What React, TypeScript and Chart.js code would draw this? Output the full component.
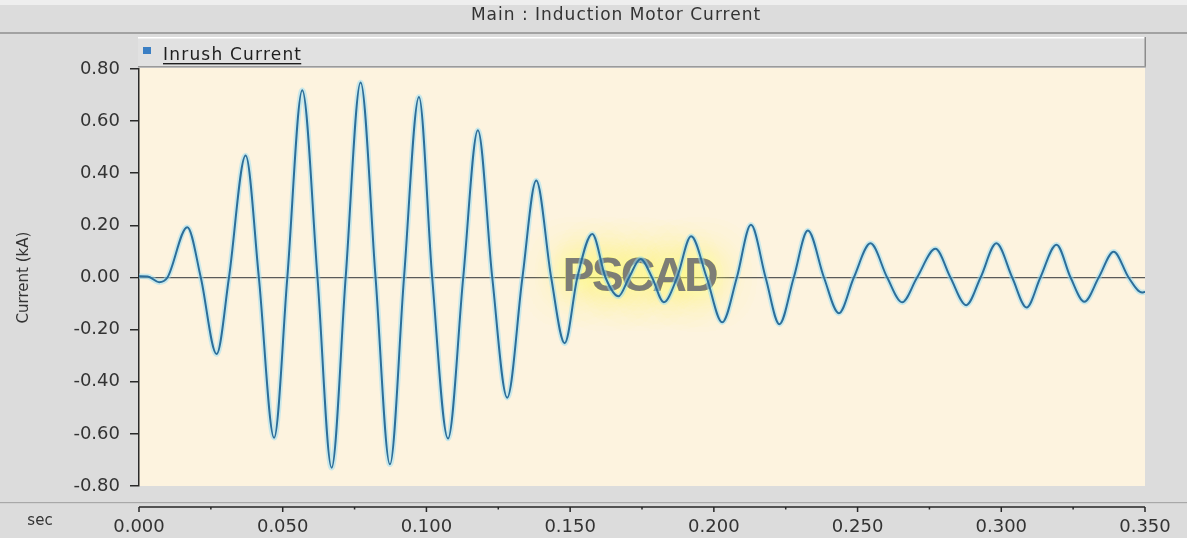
import React, { useEffect, useRef } from 'react';
import { Chart, registerables } from 'chart.js';

Chart.register(...registerables);

const TITLE = 'Main : Induction Motor Current';
const SERIES_NAME = 'Inrush Current';
const Y_TITLE = 'Current (kA)';
const X_UNIT = 'sec';
const WATERMARK = 'PSCAD';

// time (s) of extrema and zero crossings
const timeSec = [
  0.0, 0.003, 0.007, 0.0099, 0.0168, 0.0215, 0.027, 0.0313, 0.0371, 0.0417,
  0.047, 0.0516, 0.0568, 0.0621, 0.067, 0.0719, 0.0771, 0.0823, 0.0873, 0.0922,
  0.0974, 0.102, 0.1075, 0.1128, 0.1179, 0.1229, 0.1281, 0.1334, 0.1382, 0.1434,
  0.1481, 0.1525, 0.1577, 0.1623, 0.1668, 0.1705, 0.1745, 0.1785, 0.1826, 0.1872,
  0.1921, 0.1975, 0.2029, 0.208, 0.2129, 0.218, 0.2228, 0.2278, 0.2327, 0.2383,
  0.2435, 0.2487, 0.2545, 0.2603, 0.2655, 0.2707, 0.2771, 0.2823, 0.2878, 0.2928,
  0.2983, 0.3038, 0.3088, 0.3136, 0.3192, 0.3241, 0.3289, 0.3339, 0.3391, 0.3443,
  0.349, 0.35,
];
// current (kA) at those times
const currentKA = [
  0.005, 0.004, -0.018, 0.0, 0.193, 0.0, -0.294, 0.0, 0.468, 0.0,
  -0.615, 0.0, 0.718, 0.0, -0.73, 0.0, 0.748, 0.0, -0.717, 0.0,
  0.693, 0.0, -0.618, 0.0, 0.565, 0.0, -0.461, 0.0, 0.372, 0.0,
  -0.252, 0.0, 0.167, 0.0, -0.072, 0.0, 0.071, 0.0, -0.095, 0.0,
  0.158, 0.0, -0.172, 0.0, 0.202, 0.0, -0.179, 0.0, 0.18, 0.0,
  -0.137, 0.0, 0.131, 0.0, -0.095, 0.0, 0.11, 0.0, -0.106, 0.0,
  0.131, 0.0, -0.115, 0.0, 0.126, 0.0, -0.093, 0.0, 0.099, 0.0,
  -0.058, -0.055,
];

const xMajorTicks = [0, 0.05, 0.1, 0.15, 0.2, 0.25, 0.3, 0.35];
const xMinorTicks = [0.025, 0.075, 0.125, 0.175, 0.225, 0.275, 0.325];
const yTicks = [-0.8, -0.6, -0.4, -0.2, 0, 0.2, 0.4, 0.6, 0.8];

const W = 1187;
const H = 538;

const framePlugin = {
  id: 'frame',
  beforeDraw(chart: any) {
    const { ctx, chartArea } = chart;
    ctx.save();
    ctx.fillStyle = '#dcdcdc';
    ctx.fillRect(0, 0, W, H);
    ctx.fillStyle = '#eeeeee';
    ctx.fillRect(0, 0, W, 5);
    // title strip separator
    ctx.fillStyle = '#a2a2a2';
    ctx.fillRect(0, 32, W, 2);
    // title
    ctx.fillStyle = '#333333';
    ctx.font = '17px "DejaVu Sans"';
    (ctx as any).letterSpacing = '1px';
    ctx.textAlign = 'center';
    ctx.textBaseline = 'middle';
    ctx.fillText(TITLE, 616, 16);
    // legend bar
    const lx = chartArea.left - 1;
    const lw = chartArea.right + 1 - lx;
    ctx.fillStyle = '#e1e1e1';
    ctx.fillRect(lx, 37, lw, 30);
    ctx.fillStyle = '#ffffff';
    ctx.fillRect(lx, 37, lw, 1.5);
    ctx.fillStyle = '#8c8c8c';
    ctx.fillRect(lx + lw - 1.5, 37, 1.5, 30);
    ctx.fillStyle = '#9a9a9a';
    ctx.fillRect(lx, 66, lw, 1.5);
    ctx.fillStyle = '#3b7fc4';
    ctx.fillRect(143, 47, 8, 7);
    ctx.fillStyle = '#1e1e1e';
    ctx.font = '17px "DejaVu Sans"';
    (ctx as any).letterSpacing = '1.2px';
    ctx.textAlign = 'left';
    ctx.textBaseline = 'alphabetic';
    ctx.fillText(SERIES_NAME, 163, 60);
    const tw = ctx.measureText(SERIES_NAME).width;
    ctx.fillRect(163, 63, tw - 1, 1.4);
    (ctx as any).letterSpacing = '0px';
    // plot background
    ctx.fillStyle = '#fdf3df';
    ctx.fillRect(chartArea.left, chartArea.top - 1, chartArea.right - chartArea.left, chartArea.bottom - chartArea.top + 1);
    // bottom separator
    ctx.fillStyle = '#a8a8a8';
    ctx.fillRect(0, 502, W, 1.2);
    ctx.restore();
  },
  beforeDatasetsDraw(chart: any) {
    const { ctx, scales } = chart;
    const cx = scales.x.getPixelForValue(0.174);
    const cy = scales.y.getPixelForValue(0);
    ctx.save();
    ctx.font = 'bold 48px "Liberation Sans"';
    (ctx as any).letterSpacing = '-3px';
    ctx.textAlign = 'center';
    ctx.textBaseline = 'middle';
    ctx.shadowColor = 'rgba(255,255,90,1)';
    ctx.shadowBlur = 36;
    ctx.fillStyle = 'rgba(255,255,120,0.7)';
    ctx.fillText(WATERMARK, cx, cy);
    ctx.fillText(WATERMARK, cx, cy);
    ctx.fillText(WATERMARK, cx, cy);
    ctx.shadowBlur = 0;
    ctx.fillStyle = 'rgba(118,118,118,0.95)';
    ctx.fillText(WATERMARK, cx, cy);
    ctx.restore();
  },
  afterDraw(chart: any) {
    const { ctx, scales } = chart;
    const xs = scales.x;
    const axisY = 507;
    ctx.save();
    ctx.strokeStyle = '#262626';
    ctx.lineWidth = 1.5;
    ctx.beginPath();
    ctx.moveTo(xs.getPixelForValue(xMajorTicks[0]), axisY);
    ctx.lineTo(xs.getPixelForValue(xMajorTicks[xMajorTicks.length - 1]), axisY);
    ctx.stroke();
    ctx.beginPath();
    xMajorTicks.forEach((t) => {
      const px = xs.getPixelForValue(t);
      ctx.moveTo(px, axisY);
      ctx.lineTo(px, axisY + 5);
    });
    xMinorTicks.forEach((t) => {
      const px = xs.getPixelForValue(t);
      ctx.moveTo(px, axisY);
      ctx.lineTo(px, axisY + 2.5);
    });
    ctx.stroke();
    ctx.fillStyle = '#333333';
    ctx.font = '18px "DejaVu Sans"';
    ctx.textAlign = 'center';
    ctx.textBaseline = 'middle';
    xMajorTicks.forEach((t) => {
      ctx.fillText(t.toFixed(3), xs.getPixelForValue(t), 527);
    });
    ctx.font = '15px "DejaVu Sans"';
    ctx.fillText(X_UNIT, 40, 521);
    ctx.restore();
  },
};

export default function App() {
  const ref = useRef<HTMLCanvasElement | null>(null);

  useEffect(() => {
    document.body.style.margin = '0';
    if (!ref.current) return;
    const points = timeSec.map((t, i) => ({ x: t, y: currentKA[i] }));
    const chart = new Chart(ref.current, {
      type: 'line',
      data: {
        datasets: [
          {
            label: SERIES_NAME,
            data: points,
            borderColor: '#2c6e9a',
            borderWidth: 2,
            pointRadius: 0,
            cubicInterpolationMode: 'monotone',
            fill: false,
          },
          {
            label: SERIES_NAME + ' halo',
            data: points,
            borderColor: 'rgba(150,222,245,0.5)',
            borderWidth: 5.5,
            pointRadius: 0,
            cubicInterpolationMode: 'monotone',
            fill: false,
          },
        ],
      },
      options: {
        animation: false,
        responsive: true,
        maintainAspectRatio: false,
        layout: { padding: { left: 15, top: 69, right: 42, bottom: 52 } },
        plugins: {
          legend: { display: false },
          tooltip: { enabled: false },
          title: { display: false },
        },
        scales: {
          x: {
            type: 'linear',
            min: 0,
            max: 0.35,
            display: false,
          },
          y: {
            type: 'linear',
            min: -0.8,
            max: 0.8,
            afterBuildTicks: (scale: any) => {
              scale.ticks = yTicks.map((v) => ({ value: v }));
            },
            afterFit: (scale: any) => {
              scale.width = 124;
            },
            ticks: {
              color: '#333333',
              font: { family: 'DejaVu Sans', size: 18 },
              padding: 10,
              callback: (v: any) => Number(v).toFixed(2),
            },
            grid: {
              drawOnChartArea: true,
              drawTicks: true,
              tickLength: 9,
              tickColor: '#2a2a2a',
              lineWidth: (c: any) => (c.tick && c.tick.value === 0 ? 1.3 : 1.5),
              color: (c: any) => (c.tick && c.tick.value === 0 ? '#5a5a5a' : 'rgba(0,0,0,0)'),
            },
            border: { display: true, color: '#2a2a2a', width: 1.5 },
            title: {
              display: true,
              text: Y_TITLE,
              color: '#333333',
              font: { family: 'DejaVu Sans', size: 15 },
              padding: { top: 0, bottom: 0 },
            },
          },
        },
      },
      plugins: [framePlugin],
    });
    return () => chart.destroy();
  }, []);

  return (
    <div style={{ width: W, height: H, position: 'relative' }}>
      <canvas ref={ref} />
    </div>
  );
}
